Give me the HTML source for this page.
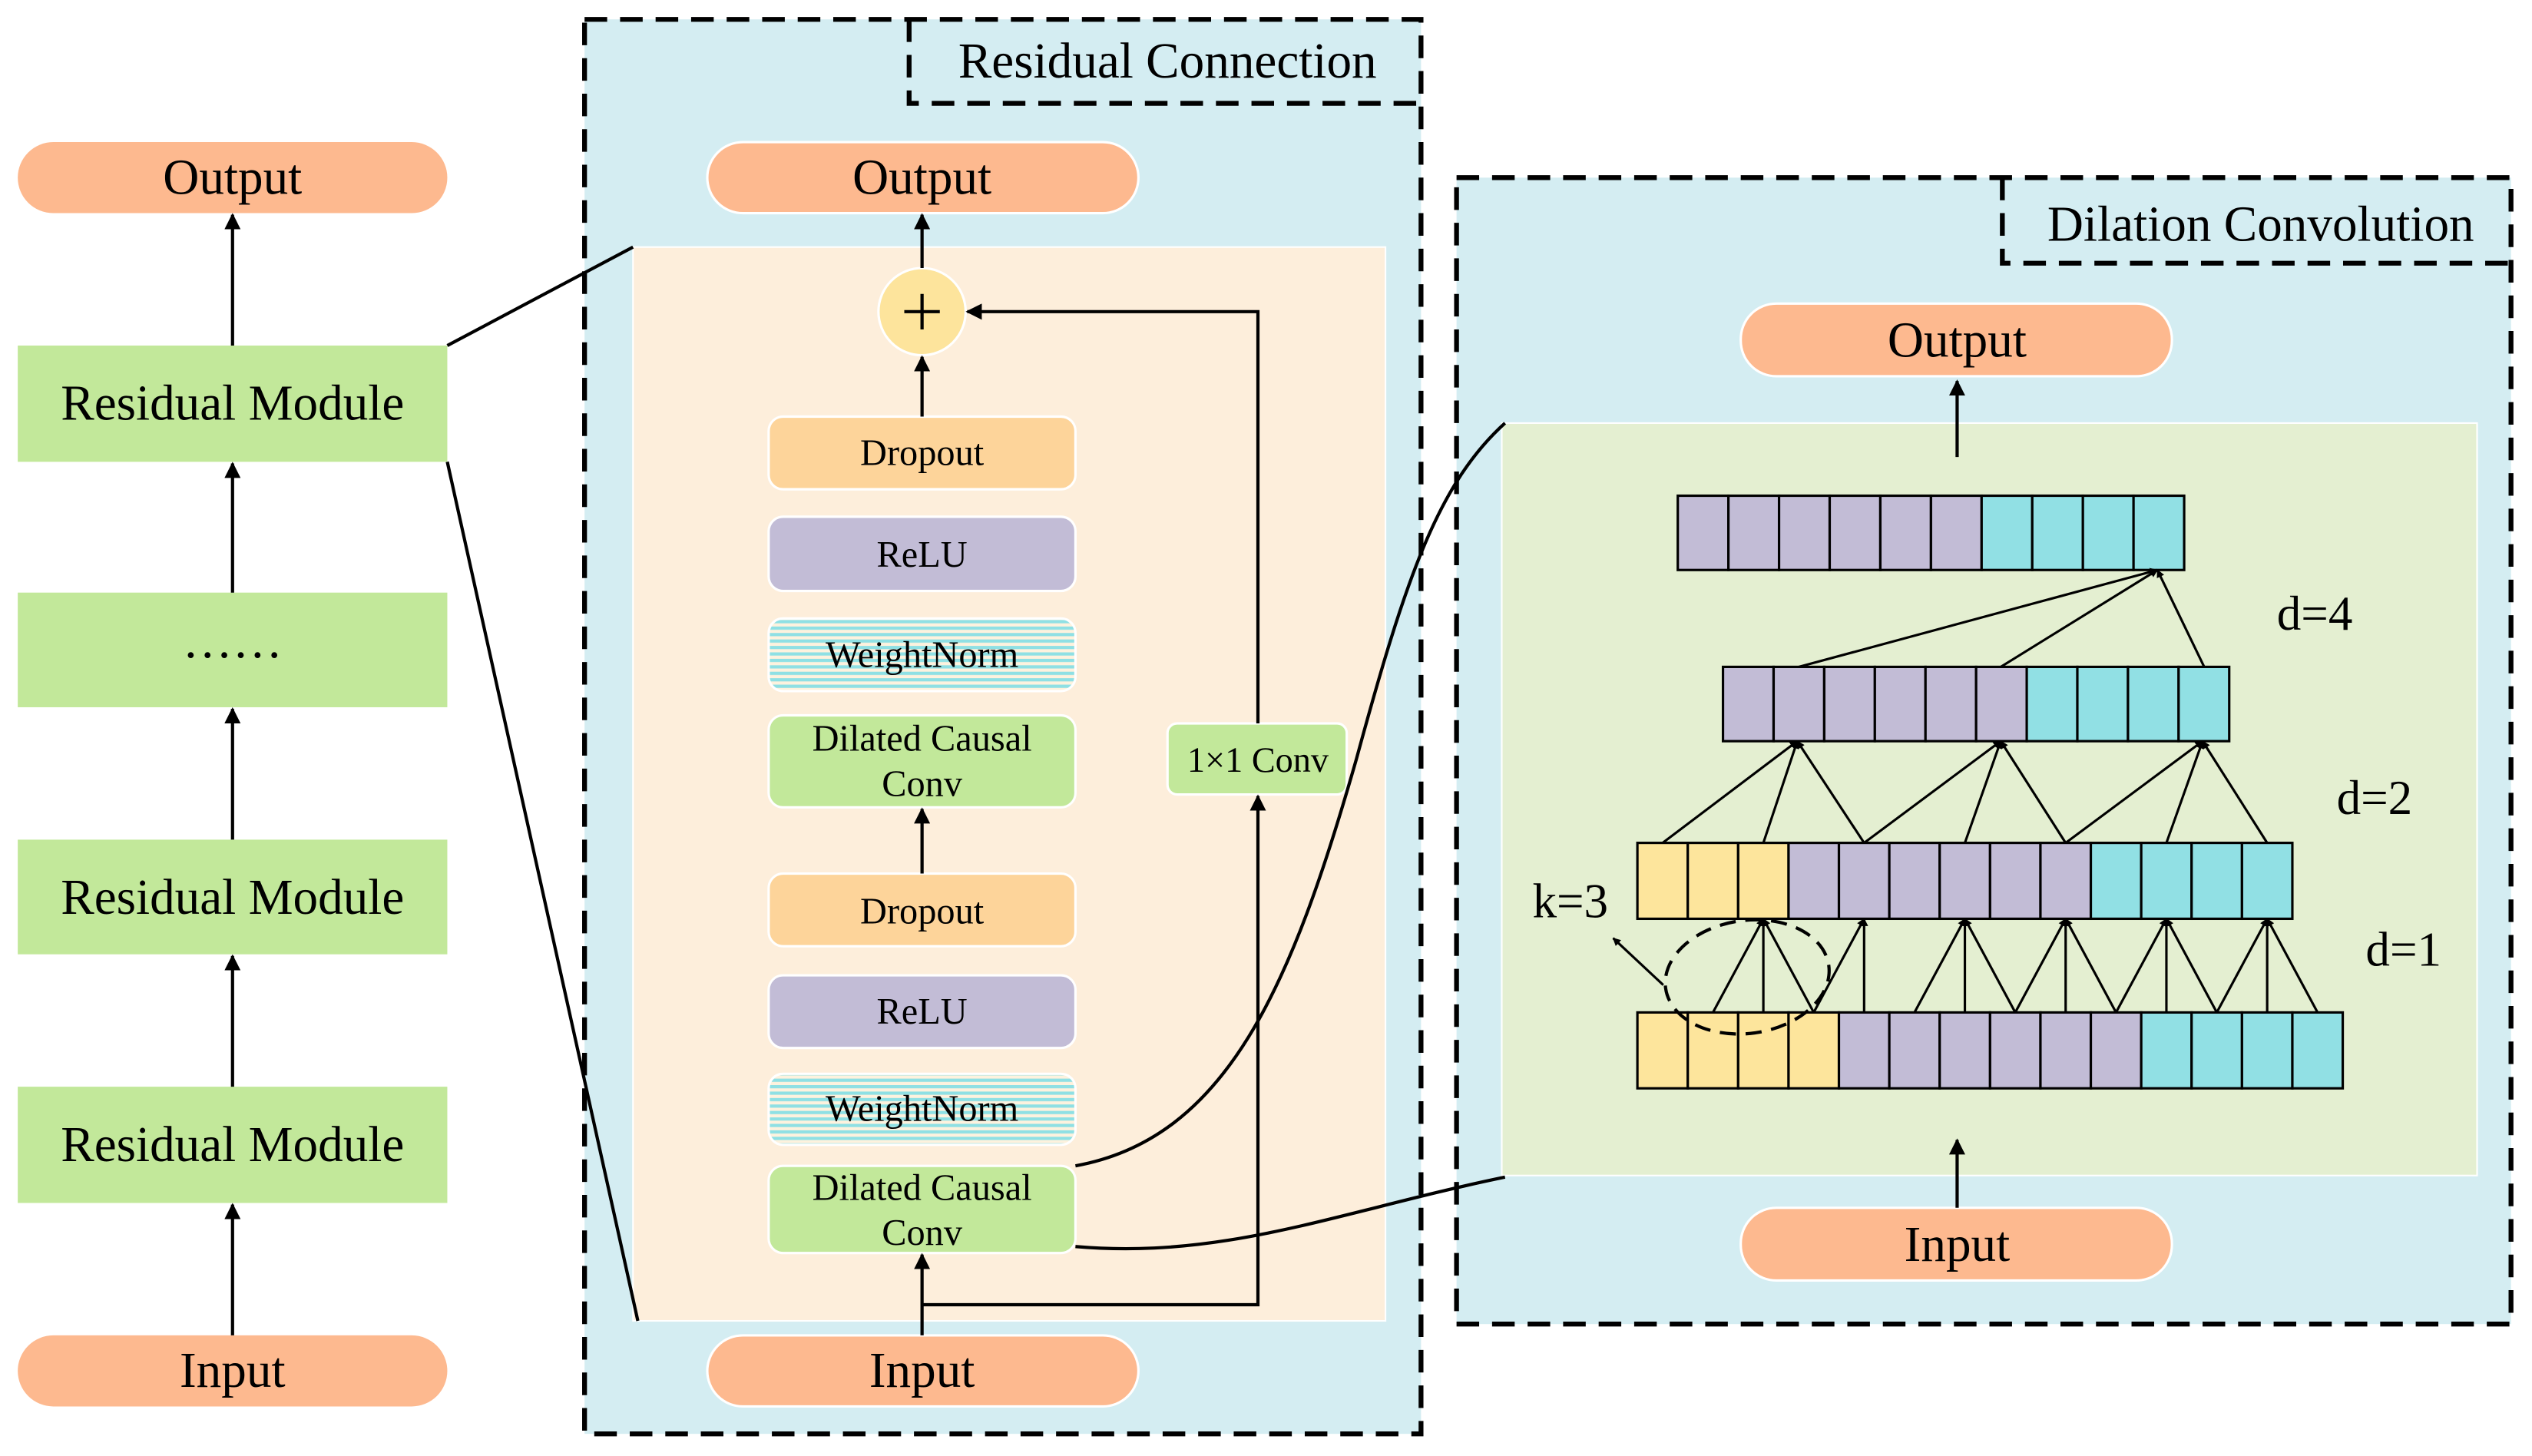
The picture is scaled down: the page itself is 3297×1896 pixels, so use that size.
<!DOCTYPE html>
<html><head><meta charset="utf-8"><style>
html,body{margin:0;padding:0;background:#fff;}
svg{display:block;}
text{font-family:"Liberation Serif",serif;fill:#000;}
</style></head><body>
<svg width="3297" height="1896" viewBox="0 0 1568 901.7" xmlns="http://www.w3.org/2000/svg">
<defs>
<marker id="a" viewBox="0 0 10 10" refX="9" refY="5" markerWidth="5" markerHeight="5" orient="auto" markerUnits="userSpaceOnUse"><path d="M0,0 L10,5 L0,10 z" fill="#000"/></marker>
<marker id="b" viewBox="0 0 10 10" refX="9" refY="5" markerWidth="10" markerHeight="10" orient="auto" markerUnits="userSpaceOnUse"><path d="M0,0 L10,5 L0,10 z" fill="#000"/></marker>
<pattern id="h" width="4" height="4" patternUnits="userSpaceOnUse"><rect width="4" height="4" fill="#fdf2de"/><rect y="0" width="4" height="2" fill="#8fe0e4"/></pattern>
</defs>
<rect width="1568" height="901.7" fill="#fff"/>

<g>
<rect x="11" y="88" width="266" height="44" rx="22" fill="#fdb98f"/>
<text x="144" y="120" font-size="31" text-anchor="middle">Output</text>
<rect x="11" y="214" width="266" height="72" fill="#c2e89a"/>
<text x="144" y="260" font-size="31" text-anchor="middle">Residual Module</text>
<rect x="11" y="367" width="266" height="71" fill="#c2e89a"/>
<text x="144" y="407" font-size="31" text-anchor="middle">……</text>
<rect x="11" y="520" width="266" height="71" fill="#c2e89a"/>
<text x="144" y="566" font-size="31" text-anchor="middle">Residual Module</text>
<rect x="11" y="673" width="266" height="72" fill="#c2e89a"/>
<text x="144" y="719" font-size="31" text-anchor="middle">Residual Module</text>
<rect x="11" y="827" width="266" height="44" rx="22" fill="#fdb98f"/>
<text x="144" y="859" font-size="31" text-anchor="middle">Input</text>
<g stroke="#000" stroke-width="2" marker-end="url(#b)">
<line x1="144" y1="214" x2="144" y2="133"/>
<line x1="144" y1="367" x2="144" y2="287"/>
<line x1="144" y1="520" x2="144" y2="439"/>
<line x1="144" y1="673" x2="144" y2="592"/>
<line x1="144" y1="827" x2="144" y2="746"/>
</g>
</g>

<rect x="362" y="12" width="518" height="876" fill="#d4edf2"/>
<rect x="392" y="153" width="466" height="665" fill="#fdeedb" stroke="#fff" stroke-width="1"/>
<line x1="277" y1="214" x2="392" y2="153" stroke="#000" stroke-width="2"/>
<line x1="277" y1="286" x2="395" y2="818" stroke="#000" stroke-width="2"/>
<rect x="362" y="12" width="518" height="876" fill="none" stroke="#000" stroke-width="3" stroke-dasharray="14,8"/>
<path d="M563,12 V64 H880" fill="none" stroke="#000" stroke-width="3" stroke-dasharray="14,8"/>
<text x="723" y="48" font-size="31" text-anchor="middle">Residual Connection</text>

<rect x="438" y="88" width="267" height="44" rx="22" fill="#fdb98f" stroke="#fff" stroke-width="1.5"/>
<text x="571" y="120" font-size="31" text-anchor="middle">Output</text>
<circle cx="571" cy="193" r="27" fill="#fde49c" stroke="#fff" stroke-width="1.5"/>
<path d="M560,193 H582 M571,182 V204" stroke="#000" stroke-width="2"/>

<g stroke="#fff" stroke-width="1.5">
<rect x="476" y="258" width="190" height="45" rx="9" fill="#fdd49a"/>
<rect x="476" y="320" width="190" height="46" rx="9" fill="#c2bcd6"/>
<rect x="476" y="383" width="190" height="45" rx="9" fill="url(#h)"/>
<rect x="476" y="443" width="190" height="57" rx="9" fill="#c2e89a"/>
<rect x="476" y="541" width="190" height="45" rx="9" fill="#fdd49a"/>
<rect x="476" y="604" width="190" height="45" rx="9" fill="#c2bcd6"/>
<rect x="476" y="665" width="190" height="44" rx="9" fill="url(#h)"/>
<rect x="476" y="722" width="190" height="54" rx="9" fill="#c2e89a"/>
<rect x="723" y="448" width="111" height="44" rx="6" fill="#c2e89a"/>
</g>
<g font-size="23" text-anchor="middle">
<text x="571" y="288">Dropout</text>
<text x="571" y="351">ReLU</text>
<text x="571" y="413">WeightNorm</text>
<text x="571" y="465">Dilated Causal</text>
<text x="571" y="493">Conv</text>
<text x="571" y="572">Dropout</text>
<text x="571" y="634">ReLU</text>
<text x="571" y="694">WeightNorm</text>
<text x="571" y="743">Dilated Causal</text>
<text x="571" y="771">Conv</text>
<text x="779" y="478" font-size="22">1×1 Conv</text>
</g>
<rect x="438" y="827" width="267" height="44" rx="22" fill="#fdb98f" stroke="#fff" stroke-width="1.5"/>
<text x="571" y="859" font-size="31" text-anchor="middle">Input</text>

<g stroke="#000" stroke-width="2" fill="none" marker-end="url(#b)">
<line x1="571" y1="166" x2="571" y2="133"/>
<line x1="571" y1="258" x2="571" y2="221"/>
<line x1="571" y1="541" x2="571" y2="501"/>
<line x1="571" y1="827" x2="571" y2="777"/>
<path d="M571,808 H779 V493"/>
<path d="M779,448 V193 H599"/>
</g>

<rect x="902" y="110" width="653" height="710" fill="#d4edf2"/>
<rect x="930" y="262" width="604" height="466" fill="#e4efd1" stroke="#fff" stroke-width="1"/>
<rect x="902" y="110" width="653" height="710" fill="none" stroke="#000" stroke-width="3" stroke-dasharray="14,8"/>
<path d="M1240,110 V163 H1555" fill="none" stroke="#000" stroke-width="3" stroke-dasharray="14,8"/>
<text x="1400" y="149" font-size="31" text-anchor="middle">Dilation Convolution</text>

<rect x="1078" y="188" width="267" height="45" rx="22" fill="#fdb98f" stroke="#fff" stroke-width="1.5"/>
<text x="1212" y="221" font-size="31" text-anchor="middle">Output</text>
<rect x="1078" y="748" width="267" height="45" rx="22" fill="#fdb98f" stroke="#fff" stroke-width="1.5"/>
<text x="1212" y="781" font-size="31" text-anchor="middle">Input</text>
<g stroke="#000" stroke-width="2" marker-end="url(#b)">
<line x1="1212" y1="283" x2="1212" y2="236"/>
<line x1="1212" y1="748" x2="1212" y2="706"/>
</g>

<g stroke="#000" stroke-width="1.5">
<g fill="#c2bcd6">
<rect x="1039" y="307" width="31.36" height="46"/><rect x="1070.36" y="307" width="31.36" height="46"/><rect x="1101.72" y="307" width="31.36" height="46"/><rect x="1133.08" y="307" width="31.36" height="46"/><rect x="1164.44" y="307" width="31.36" height="46"/><rect x="1195.8" y="307" width="31.36" height="46"/>
</g>
<g fill="#91e0e4">
<rect x="1227.16" y="307" width="31.36" height="46"/><rect x="1258.52" y="307" width="31.36" height="46"/><rect x="1289.88" y="307" width="31.36" height="46"/><rect x="1321.24" y="307" width="31.36" height="46"/>
</g>
<g fill="#c2bcd6">
<rect x="1067" y="413" width="31.35" height="46"/><rect x="1098.35" y="413" width="31.35" height="46"/><rect x="1129.7" y="413" width="31.35" height="46"/><rect x="1161.05" y="413" width="31.35" height="46"/><rect x="1192.4" y="413" width="31.35" height="46"/><rect x="1223.75" y="413" width="31.35" height="46"/>
</g>
<g fill="#91e0e4">
<rect x="1255.1" y="413" width="31.35" height="46"/><rect x="1286.45" y="413" width="31.35" height="46"/><rect x="1317.8" y="413" width="31.35" height="46"/><rect x="1349.15" y="413" width="31.35" height="46"/>
</g>
<g fill="#fde59c">
<rect x="1014" y="522" width="31.2" height="47"/><rect x="1045.2" y="522" width="31.2" height="47"/><rect x="1076.4" y="522" width="31.2" height="47"/>
</g>
<g fill="#c2bcd6">
<rect x="1107.6" y="522" width="31.2" height="47"/><rect x="1138.8" y="522" width="31.2" height="47"/><rect x="1170" y="522" width="31.2" height="47"/><rect x="1201.2" y="522" width="31.2" height="47"/><rect x="1232.4" y="522" width="31.2" height="47"/><rect x="1263.6" y="522" width="31.2" height="47"/>
</g>
<g fill="#91e0e4">
<rect x="1294.8" y="522" width="31.2" height="47"/><rect x="1326" y="522" width="31.2" height="47"/><rect x="1357.2" y="522" width="31.2" height="47"/><rect x="1388.4" y="522" width="31.2" height="47"/>
</g>
<g fill="#fde59c">
<rect x="1014" y="627" width="31.2" height="47"/><rect x="1045.2" y="627" width="31.2" height="47"/><rect x="1076.4" y="627" width="31.2" height="47"/><rect x="1107.6" y="627" width="31.2" height="47"/>
</g>
<g fill="#c2bcd6">
<rect x="1138.8" y="627" width="31.2" height="47"/><rect x="1170" y="627" width="31.2" height="47"/><rect x="1201.2" y="627" width="31.2" height="47"/><rect x="1232.4" y="627" width="31.2" height="47"/><rect x="1263.6" y="627" width="31.2" height="47"/><rect x="1294.8" y="627" width="31.2" height="47"/>
</g>
<g fill="#91e0e4">
<rect x="1326" y="627" width="31.2" height="47"/><rect x="1357.2" y="627" width="31.2" height="47"/><rect x="1388.4" y="627" width="31.2" height="47"/><rect x="1419.6" y="627" width="31.2" height="47"/>
</g>
</g>

<g stroke="#000" stroke-width="1.5" fill="none" marker-end="url(#a)">
<line x1="1060.8" y1="627" x2="1092" y2="569"/><line x1="1092" y1="627" x2="1092" y2="569"/><line x1="1123.2" y1="627" x2="1092" y2="569"/>
<line x1="1123.2" y1="627" x2="1154.4" y2="569"/><line x1="1154.4" y1="627" x2="1154.4" y2="569"/>
<line x1="1185.6" y1="627" x2="1216.8" y2="569"/><line x1="1216.8" y1="627" x2="1216.8" y2="569"/><line x1="1248" y1="627" x2="1216.8" y2="569"/>
<line x1="1248" y1="627" x2="1279.2" y2="569"/><line x1="1279.2" y1="627" x2="1279.2" y2="569"/><line x1="1310.4" y1="627" x2="1279.2" y2="569"/>
<line x1="1310.4" y1="627" x2="1341.6" y2="569"/><line x1="1341.6" y1="627" x2="1341.6" y2="569"/><line x1="1372.8" y1="627" x2="1341.6" y2="569"/>
<line x1="1372.8" y1="627" x2="1404" y2="569"/><line x1="1404" y1="627" x2="1404" y2="569"/><line x1="1435.2" y1="627" x2="1404" y2="569"/>
<line x1="1029.6" y1="522" x2="1113" y2="459"/><line x1="1092" y1="522" x2="1113" y2="459"/><line x1="1154.4" y1="522" x2="1113" y2="459"/>
<line x1="1154.4" y1="522" x2="1239" y2="459"/><line x1="1216.8" y1="522" x2="1239" y2="459"/><line x1="1279.2" y1="522" x2="1239" y2="459"/>
<line x1="1279.2" y1="522" x2="1364" y2="459"/><line x1="1341.6" y1="522" x2="1364" y2="459"/><line x1="1404" y1="522" x2="1364" y2="459"/>
<line x1="1114" y1="413" x2="1336" y2="353"/><line x1="1239" y1="413" x2="1336" y2="353"/><line x1="1365" y1="413" x2="1336" y2="353"/>
<line x1="1030" y1="610" x2="999" y2="581"/>
</g>
<ellipse cx="1082" cy="605" rx="51" ry="35" fill="none" stroke="#000" stroke-width="2" stroke-dasharray="10,6" transform="rotate(-8 1082 605)"/>

<g font-size="30">
<text x="949" y="568">k=3</text>
<text x="1410" y="390">d=4</text>
<text x="1447" y="504">d=2</text>
<text x="1465" y="598">d=1</text>
</g>

<path d="M666,722 C760,705 800,610 840,470 C870,360 890,300 932,262" fill="none" stroke="#000" stroke-width="2"/>
<path d="M666,772 C760,780 830,750 932,729" fill="none" stroke="#000" stroke-width="2"/>
</svg>
</body></html>
